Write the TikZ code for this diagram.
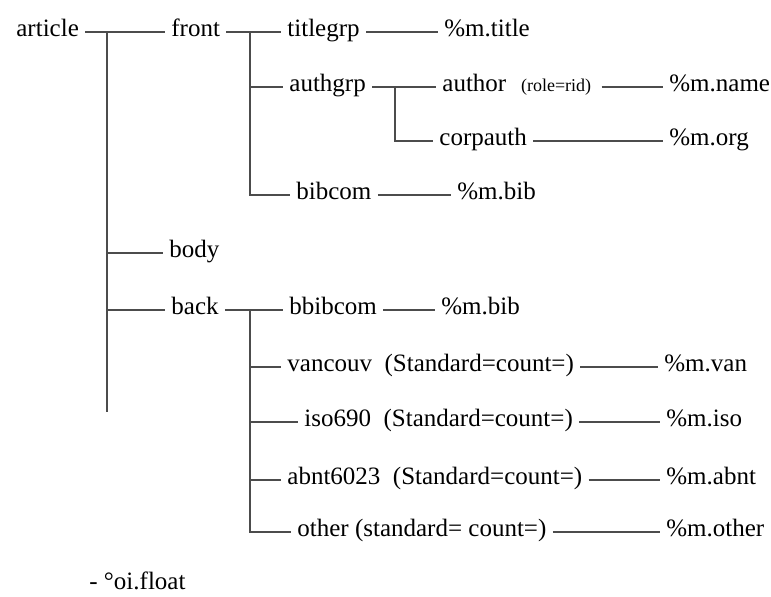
\documentclass[tikz,border=0pt]{standalone}
\usepackage{fontspec}
\setmainfont{Liberation Serif}
\usepackage{tikz}
\usetikzlibrary{positioning}
\tikzset{elem/.style = {font=\fontsize{12.5}{14}\selectfont, anchor=mid west, inner xsep=3pt, inner ysep=1pt}}
\tikzset{fmt/.style = {elem, text=black}}
\tikzset{attr/.style = {font=\fontsize{9}{10}\selectfont, anchor=mid west, inner xsep=1pt}}
\tikzset{link/.style = {draw=black!70, line width=0.7pt}}

\begin{document}
\begin{tikzpicture}[x=0.5pt,y=-0.5pt]
\useasboundingbox (0,0) rectangle (771,596);
\node[elem](article) at (10,32) {article};
\node[elem](front) at (165,32) {front};
\node[elem](titlegrp) at (281,32) {titlegrp};
\node[fmt](mtitle) at (438,32) {\%m.title};
\node[elem](authgrp) at (283,87) {authgrp};
\node[elem](author) at (436,87) {author};
\node[attr,right = 3pt of author.mid east,anchor=mid west](role) {(role=rid)};
\node[fmt](mname) at (663,87) {\%m.name};
\node[elem](corpauth) at (433,141) {corpauth};
\node[fmt](morg) at (663,141) {\%m.org};
\node[elem](bibcom) at (290,195) {bibcom};
\node[fmt](mbib) at (451,195) {\%m.bib};
\node[elem](body) at (163,253) {body};
\node[elem](back) at (165,310) {back};
\node[elem](bbibcom) at (283,310) {bbibcom};
\node[fmt](mbbib) at (435,310) {\%m.bib};
\node[elem](vancouv) at (281,367) {vancouv\ \ (Standard=count=)};
\node[fmt](mvan) at (658,367) {\%m.van};
\node[elem](iso) at (298,422) {iso690\ \ (Standard=count=)};
\node[fmt](miso) at (660,422) {\%m.iso};
\node[elem](abnt) at (281,480) {abnt6023\ \ (Standard=count=)};
\node[fmt](mabnt) at (660,480) {\%m.abnt};
\node[elem](other) at (291,532) {other (standard= count=)};
\node[fmt](mother) at (660,532) {\%m.other};
\node[elem,anchor=base west](float) at (83,589) {- °oi.float};
\coordinate (aj) at (107,32);
\coordinate (aend) at (107,412);
\coordinate (fj) at (250,32);
\coordinate (gj) at (395,87);
\coordinate (bj) at (250,310);
\draw[link] (article.mid east) -- (front.mid west);
\draw[link] (aj) -- (aend);
\draw[link] (aj |- body.mid west) -- (body.mid west);
\draw[link] (aj |- back.mid west) -- (back.mid west);
\draw[link] (front.mid east) -- (titlegrp.mid west);
\draw[link] (fj) |- (bibcom.mid west);
\draw[link] (fj |- authgrp.mid west) -- (authgrp.mid west);
\draw[link] (titlegrp.mid east) -- (mtitle.mid west);
\draw[link] (authgrp.mid east) -- (author.mid west);
\draw[link] (gj) |- (corpauth.mid west);
\draw[link] (role.mid east) ++(8,0) -- (mname.mid west);
\draw[link] (corpauth.mid east) -- (morg.mid west);
\draw[link] (bibcom.mid east) -- (mbib.mid west);
\draw[link] (back.mid east) -- (bbibcom.mid west);
\draw[link] (bj) |- (other.mid west);
\draw[link] (bj |- vancouv.mid west) -- (vancouv.mid west);
\draw[link] (bj |- iso.mid west) -- (iso.mid west);
\draw[link] (bj |- abnt.mid west) -- (abnt.mid west);
\draw[link] (bbibcom.mid east) -- (mbbib.mid west);
\draw[link] (vancouv.mid east) -- (mvan.mid west);
\draw[link] (iso.mid east) -- (miso.mid west);
\draw[link] (abnt.mid east) -- (mabnt.mid west);
\draw[link] (other.mid east) -- (mother.mid west);
\end{tikzpicture}
\end{document}
